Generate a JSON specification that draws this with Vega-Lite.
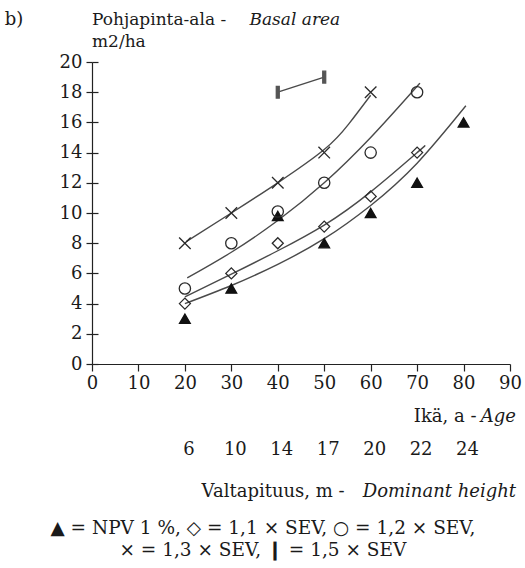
{
  "$schema": "https://vega.github.io/schema/vega-lite/v6.json",
  "width": 418,
  "height": 302,
  "autosize": "none",
  "padding": {"left": 92, "top": 62, "right": 15, "bottom": 204},
  "background": "white",
  "config": {
    "view": {"stroke": null},
    "font": "DejaVu Serif",
    "text": {"font": "DejaVu Serif", "fontSize": 18, "color": "#1a1a1a"}
  },
  "datasets": {
    "points": [
      {"series": "NPV 1 %", "age": 20, "ba": 3},
      {"series": "NPV 1 %", "age": 30, "ba": 5},
      {"series": "NPV 1 %", "age": 40, "ba": 9.8},
      {"series": "NPV 1 %", "age": 50, "ba": 8},
      {"series": "NPV 1 %", "age": 60, "ba": 10},
      {"series": "NPV 1 %", "age": 70, "ba": 12},
      {"series": "NPV 1 %", "age": 80, "ba": 16},
      {"series": "1,1 × SEV", "age": 20, "ba": 4},
      {"series": "1,1 × SEV", "age": 30, "ba": 6},
      {"series": "1,1 × SEV", "age": 40, "ba": 8},
      {"series": "1,1 × SEV", "age": 50, "ba": 9.1},
      {"series": "1,1 × SEV", "age": 60, "ba": 11.1},
      {"series": "1,1 × SEV", "age": 70, "ba": 14},
      {"series": "1,2 × SEV", "age": 20, "ba": 5},
      {"series": "1,2 × SEV", "age": 30, "ba": 8},
      {"series": "1,2 × SEV", "age": 40, "ba": 10.1},
      {"series": "1,2 × SEV", "age": 50, "ba": 12},
      {"series": "1,2 × SEV", "age": 60, "ba": 14},
      {"series": "1,2 × SEV", "age": 70, "ba": 18},
      {"series": "1,3 × SEV", "age": 20, "ba": 8},
      {"series": "1,3 × SEV", "age": 30, "ba": 10},
      {"series": "1,3 × SEV", "age": 40, "ba": 12},
      {"series": "1,3 × SEV", "age": 50, "ba": 14},
      {"series": "1,3 × SEV", "age": 60, "ba": 18},
      {"series": "1,5 × SEV", "age": 40, "ba": 18},
      {"series": "1,5 × SEV", "age": 50, "ba": 19}
    ],
    "curves": [
      {"series": "NPV 1 %", "age": 20, "ba": 4.0},
      {"series": "NPV 1 %", "age": 30, "ba": 5.2},
      {"series": "NPV 1 %", "age": 40, "ba": 6.6},
      {"series": "NPV 1 %", "age": 50, "ba": 8.3},
      {"series": "NPV 1 %", "age": 60, "ba": 10.5},
      {"series": "NPV 1 %", "age": 70, "ba": 13.3},
      {"series": "NPV 1 %", "age": 80.5, "ba": 17.1},
      {"series": "1,1 × SEV", "age": 20, "ba": 4.45},
      {"series": "1,1 × SEV", "age": 30, "ba": 5.95},
      {"series": "1,1 × SEV", "age": 40, "ba": 7.5},
      {"series": "1,1 × SEV", "age": 50, "ba": 9.2},
      {"series": "1,1 × SEV", "age": 60, "ba": 11.4},
      {"series": "1,1 × SEV", "age": 70, "ba": 14.0},
      {"series": "1,1 × SEV", "age": 71.5, "ba": 14.4},
      {"series": "1,2 × SEV", "age": 20.5, "ba": 5.7},
      {"series": "1,2 × SEV", "age": 30, "ba": 7.4},
      {"series": "1,2 × SEV", "age": 40, "ba": 9.5},
      {"series": "1,2 × SEV", "age": 50, "ba": 12.0},
      {"series": "1,2 × SEV", "age": 60, "ba": 15.0},
      {"series": "1,2 × SEV", "age": 70.6, "ba": 18.6},
      {"series": "1,3 × SEV", "age": 20.3, "ba": 8.1},
      {"series": "1,3 × SEV", "age": 30, "ba": 10.0},
      {"series": "1,3 × SEV", "age": 40, "ba": 12.0},
      {"series": "1,3 × SEV", "age": 50, "ba": 14.2},
      {"series": "1,3 × SEV", "age": 55.3, "ba": 15.9},
      {"series": "1,3 × SEV", "age": 60, "ba": 17.8},
      {"series": "1,5 × SEV", "age": 40, "ba": 18},
      {"series": "1,5 × SEV", "age": 50, "ba": 19}
    ],
    "heights": [
      {"age": 20, "height": 6},
      {"age": 30, "height": 10},
      {"age": 40, "height": 14},
      {"age": 50, "height": 17},
      {"age": 60, "height": 20},
      {"age": 70, "height": 22},
      {"age": 80, "height": 24}
    ]
  },
  "resolve": {"axis": {"y": "independent"}},
  "layer": [
    {
      "data": {"name": "curves"},
      "mark": {"type": "line", "interpolate": "natural", "stroke": "#4a4a4a", "strokeWidth": 1.4},
      "encoding": {
        "x": {
          "field": "age", "type": "quantitative", "title": null,
          "scale": {"domain": [0, 90], "nice": false, "zero": true},
          "axis": {
            "values": [0, 10, 20, 30, 40, 50, 60, 70, 80, 90],
            "grid": false, "title": null,
            "tickSize": 7, "tickWidth": 1.2, "tickColor": "#222",
            "domainColor": "#222", "domainWidth": 1.2,
            "labelFont": "DejaVu Serif",
            "labelFontSize": 18, "labelColor": "#1a1a1a",
            "labelPadding": 3, "labelFlush": false
          }
        },
        "y": {
          "field": "ba", "type": "quantitative", "title": null,
          "scale": {"domain": [0, 20], "nice": false},
          "axis": {
            "orient": "left",
            "values": [0, 2, 4, 6, 8, 10, 12, 14, 16, 18, 20],
            "grid": false, "title": null,
            "tickSize": 6, "tickWidth": 1.2, "tickColor": "#222",
            "domainColor": "#222", "domainWidth": 1.2,
            "labelFont": "DejaVu Serif",
            "labelFontSize": 18, "labelColor": "#1a1a1a",
            "labelPadding": 4, "labelFlush": false
          }
        },
        "detail": {"field": "series"}
      }
    },
    {
      "data": {"name": "points"},
      "mark": {"type": "point", "filled": false, "strokeWidth": 1.3, "opacity": 1},
      "encoding": {
        "x": {"field": "age", "type": "quantitative", "title": null},
        "y": {
          "field": "ba", "type": "quantitative", "title": null,
          "axis": {
            "orient": "left",
            "values": [0, 2, 4, 6, 8, 10, 12, 14, 16, 18, 20],
            "grid": false, "title": null, "labels": false, "domain": false,
            "tickSize": -6, "tickWidth": 1.2, "tickColor": "#222"
          }
        },
        "shape": {
          "field": "series", "legend": null,
          "scale": {
            "domain": ["NPV 1 %", "1,1 × SEV", "1,2 × SEV", "1,3 × SEV", "1,5 × SEV"],
            "range": ["triangle-up", "diamond", "circle", "M-1,-1L1,1M-1,1L1,-1", "M-0.25,-1H0.25V1H-0.25Z"]
          }
        },
        "fill": {
          "field": "series", "legend": null,
          "scale": {
            "domain": ["NPV 1 %", "1,1 × SEV", "1,2 × SEV", "1,3 × SEV", "1,5 × SEV"],
            "range": ["#111111", "transparent", "transparent", "transparent", "#555555"]
          }
        },
        "stroke": {
          "field": "series", "legend": null,
          "scale": {
            "domain": ["NPV 1 %", "1,1 × SEV", "1,2 × SEV", "1,3 × SEV", "1,5 × SEV"],
            "range": ["#111111", "#2a2a2a", "#2a2a2a", "#2a2a2a", "#555555"]
          }
        },
        "size": {
          "field": "series", "legend": null,
          "scale": {
            "domain": ["NPV 1 %", "1,1 × SEV", "1,2 × SEV", "1,3 × SEV", "1,5 × SEV"],
            "range": [115, 140, 85, 110, 81]
          }
        }
      }
    },
    {
      "data": {"name": "heights"},
      "mark": {"type": "text", "align": "center", "baseline": "alphabetic", "dx": 4},
      "encoding": {
        "x": {"field": "age", "type": "quantitative", "title": null},
        "y": {"datum": -6.03, "type": "quantitative", "axis": null},
        "text": {"field": "height", "type": "quantitative"}
      }
    },
    {
      "data": {"values": [{}]},
      "mark": {"type": "text", "align": "left", "baseline": "alphabetic"},
      "encoding": {
        "x": {"datum": -18.8, "type": "quantitative"},
        "y": {"datum": 22.45, "type": "quantitative", "axis": null},
        "text": {"value": "b)"}
      }
    },
    {
      "data": {"values": [{}]},
      "mark": {"type": "text", "align": "left", "baseline": "alphabetic", "fontSize": 17},
      "encoding": {
        "x": {"datum": 0, "type": "quantitative"},
        "y": {"datum": 22.45, "type": "quantitative", "axis": null},
        "text": {"value": "Pohjapinta-ala  -"}
      }
    },
    {
      "data": {"values": [{}]},
      "mark": {"type": "text", "align": "left", "baseline": "alphabetic", "fontStyle": "italic", "fontSize": 17},
      "encoding": {
        "x": {"datum": 33.9, "type": "quantitative"},
        "y": {"datum": 22.45, "type": "quantitative", "axis": null},
        "text": {"value": "Basal area"}
      }
    },
    {
      "data": {"values": [{}]},
      "mark": {"type": "text", "align": "left", "baseline": "alphabetic", "fontSize": 17},
      "encoding": {
        "x": {"datum": 0, "type": "quantitative"},
        "y": {"datum": 21.0, "type": "quantitative", "axis": null},
        "text": {"value": "m2/ha"}
      }
    },
    {
      "data": {"values": [{}]},
      "mark": {"type": "text", "align": "right", "baseline": "alphabetic"},
      "encoding": {
        "x": {"datum": 82.8, "type": "quantitative"},
        "y": {"datum": -3.84, "type": "quantitative", "axis": null},
        "text": {"value": "Ikä,  a  -"}
      }
    },
    {
      "data": {"values": [{}]},
      "mark": {"type": "text", "align": "left", "baseline": "alphabetic", "fontStyle": "italic"},
      "encoding": {
        "x": {"datum": 83.7, "type": "quantitative"},
        "y": {"datum": -3.84, "type": "quantitative", "axis": null},
        "text": {"value": "Age"}
      }
    },
    {
      "data": {"values": [{}]},
      "mark": {"type": "text", "align": "right", "baseline": "alphabetic"},
      "encoding": {
        "x": {"datum": 54.4, "type": "quantitative"},
        "y": {"datum": -8.8, "type": "quantitative", "axis": null},
        "text": {"value": "Valtapituus,  m  -"}
      }
    },
    {
      "data": {"values": [{}]},
      "mark": {"type": "text", "align": "left", "baseline": "alphabetic", "fontStyle": "italic"},
      "encoding": {
        "x": {"datum": 58.3, "type": "quantitative"},
        "y": {"datum": -8.8, "type": "quantitative", "axis": null},
        "text": {"value": "Dominant height"}
      }
    },
    {
      "data": {"values": [{}]},
      "mark": {"type": "text", "align": "center", "baseline": "alphabetic", "fontSize": 18.5},
      "encoding": {
        "x": {"datum": 36.8, "type": "quantitative"},
        "y": {"datum": -11.26, "type": "quantitative", "axis": null},
        "text": {"value": "▲ = NPV 1 %,  ◇ = 1,1 × SEV,  ○ = 1,2 × SEV,"}
      }
    },
    {
      "data": {"values": [{}]},
      "mark": {"type": "text", "align": "center", "baseline": "alphabetic", "fontSize": 18.5},
      "encoding": {
        "x": {"datum": 36.8, "type": "quantitative"},
        "y": {"datum": -12.7, "type": "quantitative", "axis": null},
        "text": {"value": "× = 1,3 × SEV,  ❙ = 1,5 × SEV"}
      }
    }
  ]
}
